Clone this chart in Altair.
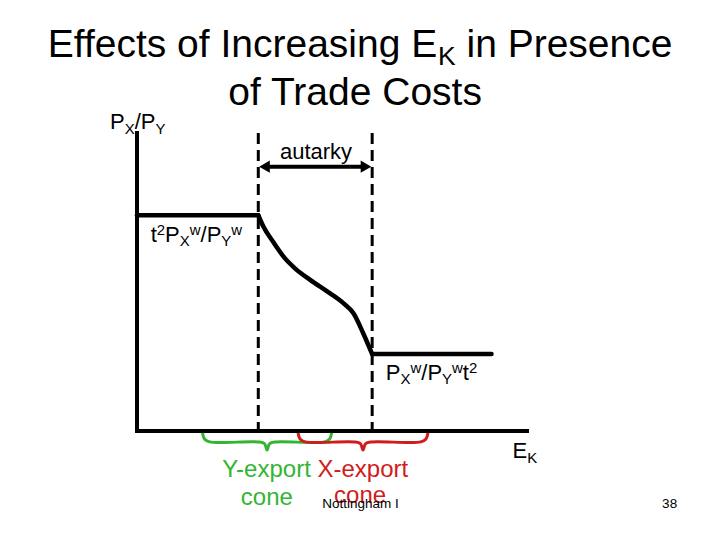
import altair as alt
import pandas as pd

# ---------------- data (diagram units: E_K axis 0..100, P_X/P_Y axis 0..100) ----------------
axis_x_end = 100
axis_y_end = 100
autarky_left = 31.1
autarky_right = 60.3
price_high = 72.4        # t^2 Px^w / Py^w
price_low = 25.8         # Px^w / Py^w t^2
flat_right_end = 90.9
curve_x = [31.1, 32.4, 34.9, 37.9, 40.5, 44.4, 49.5, 52.9, 55.5, 58.0, 60.3]
curve_y = [72.4, 68.6, 63.5, 58.0, 54.6, 50.7, 46.2, 42.9, 39.5, 32.8, 25.8]
dash_top = 100
arrow_y = 88.7

brace_names = ["Y-export cone", "X-export cone"]
brace_left = [16.8, 41.3]
brace_right = [49.9, 74.6]
brace_colors = ["#33b533", "#d01c1c"]
brace_top = -0.7
brace_depth = 5.7
# normalised curly-brace outline (u along, v down)
BRACE_U = [0, 0.015, 0.055, 0.43, 0.48, 0.5, 0.52, 0.57, 0.945, 0.985, 1]
BRACE_V = [0, 0.35, 0.52, 0.52, 0.62, 1, 0.62, 0.52, 0.52, 0.35, 0]

GREEN, RED = brace_colors

# ---------------- canvas scales ----------------
W_PX, H_PX = 704, 520
XDOM = [-33.08, 147.44]
YDOM = [-32.55, 141.95]
PXU_X = W_PX / (XDOM[1] - XDOM[0])
PXU_Y = H_PX / (YDOM[1] - YDOM[0])
FONT = "Liberation Sans"

ARIAL = {
    " ": 278, "-": 333, "/": 278, "2": 556, "3": 556, "8": 556,
    "a": 556, "b": 556, "c": 500, "d": 556, "e": 556, "f": 278, "g": 556, "h": 556,
    "i": 222, "j": 222, "k": 500, "l": 222, "m": 833, "n": 556, "o": 556, "p": 556,
    "q": 556, "r": 333, "s": 500, "t": 278, "u": 556, "v": 500, "w": 722, "x": 500,
    "y": 500, "z": 500,
    "C": 722, "E": 667, "I": 278, "K": 667, "N": 722, "P": 667, "T": 611, "X": 667, "Y": 667,
}


def tw(s, size):
    return sum(ARIAL.get(c, 556) for c in s) * size / 1000.0


def rich(segs, x, y, size, color, anchor="left"):
    pieces, off = [], 0.0
    for txt, kind in segs:
        s = size if kind == "n" else size * 0.68
        dy = 0.0 if kind == "n" else (0.2 * size if kind == "sub" else -0.3 * size)
        lead = len(txt) - len(txt.lstrip(" "))
        off += tw(" " * lead, s)
        body = txt.lstrip(" ")
        pieces.append((body, off, dy, s))
        off += tw(body, s)
    start = -off / 2 if anchor == "center" else 0.0
    return [dict(text=t, x=x + (start + o) / PXU_X, y=y - dy / PXU_Y, size=s, color=color)
            for t, o, dy, s in pieces]


xs = alt.Scale(domain=XDOM, nice=False, zero=False)
ys = alt.Scale(domain=YDOM, nice=False, zero=False)
X = lambda f: alt.X(f, type="quantitative", scale=xs, axis=None)
Y = lambda f: alt.Y(f, type="quantitative", scale=ys, axis=None)

# axes
axes_df = pd.DataFrame({"x": [0, 0], "y": [0, 0], "x2": [0, axis_x_end], "y2": [axis_y_end, 0]})
axes = alt.Chart(axes_df).mark_rule(color="black", strokeWidth=4, strokeCap="square").encode(
    x=X("x"), y=Y("y"), x2="x2", y2="y2")

# flat price segments
flat_df = pd.DataFrame({"x": [0, autarky_right], "x2": [autarky_left, flat_right_end],
                        "y": [price_high, price_low]})
flats = alt.Chart(flat_df).mark_rule(color="black", strokeWidth=4.5, strokeCap="round").encode(
    x=X("x"), x2="x2", y=Y("y"))

curve_df = pd.DataFrame({"x": curve_x, "y": curve_y, "o": list(range(len(curve_x)))})
curve = alt.Chart(curve_df).mark_line(color="black", strokeWidth=4.5, interpolate="monotone",
                                      strokeCap="round").encode(
    x=X("x"), y=Y("y"), order="o:Q")

# dashed cone boundaries
dash_df = pd.DataFrame({"x": [autarky_left, autarky_right], "y": [dash_top, dash_top], "y2": [0, 0]})
dashes = alt.Chart(dash_df).mark_rule(color="black", strokeWidth=3, strokeDash=[11, 6]).encode(
    x=X("x"), y=Y("y"), y2="y2")

# autarky arrow
head = 6.2 / PXU_X
arrow_df = pd.DataFrame({"x": [autarky_left + head], "x2": [autarky_right - head], "y": [arrow_y]})
arrow = alt.Chart(arrow_df).mark_rule(color="black", strokeWidth=4).encode(
    x=X("x"), x2="x2", y=Y("y"))
head_l = alt.Chart(pd.DataFrame({"x": [autarky_left + head], "y": [arrow_y]})).mark_point(
    shape="triangle-left", filled=True, color="black", size=150, opacity=1).encode(x=X("x"), y=Y("y"))
head_r = alt.Chart(pd.DataFrame({"x": [autarky_right - head], "y": [arrow_y]})).mark_point(
    shape="triangle-right", filled=True, color="black", size=150, opacity=1).encode(x=X("x"), y=Y("y"))

# braces
brows = []
for name, l, r, c in zip(brace_names, brace_left, brace_right, brace_colors):
    for i, (u, v) in enumerate(zip(BRACE_U, BRACE_V)):
        brows.append(dict(b=name, o=i, x=l + u * (r - l), y=brace_top - v * brace_depth, c=c))
braces = alt.Chart(pd.DataFrame(brows)).mark_line(strokeWidth=3, interpolate="catmull-rom").encode(
    x=X("x"), y=Y("y"), detail="b:N", order="o:Q", color=alt.Color("c:N", scale=None))

# texts
rows = []
rows += rich([("Effects of Increasing E", "n"), ("K", "sub"), (" in Presence", "n")],
             57.2, 125.5, 39, "black", "center")
rows += rich([("of Trade Costs", "n")], 56.2, 109.4, 39, "black", "center")
rows += rich([("P", "n"), ("X", "sub"), ("/P", "n"), ("Y", "sub")], -6.9, 101.3, 22, "black")
rows += rich([("autarky", "n")], 45.9, 91.2, 22, "black", "center")
rows += rich([("t", "n"), ("2", "sup"), ("P", "n"), ("X", "sub"), ("w", "sup"), ("/P", "n"),
              ("Y", "sub"), ("w", "sup")], 3.5, 63.5, 22, "black")
rows += rich([("P", "n"), ("X", "sub"), ("w", "sup"), ("/P", "n"), ("Y", "sub"), ("w", "sup"),
              ("t", "n"), ("2", "sup")], 63.8, 17.1, 22, "black")
rows += rich([("E", "n"), ("K", "sub")], 96.3, -9.2, 22, "black")
rows += rich([("Y-export", "n")], 33.5, -15.3, 24, GREEN, "center")
rows += rich([("cone", "n")], 33.3, -24.8, 24, GREEN, "center")
rows += rich([("X-export", "n")], 57.9, -15.3, 24, RED, "center")
rows += rich([("cone", "n")], 57.2, -24.3, 24, RED, "center")
rows += rich([("Nottingham I", "n")], 57.3, -25.8, 13.5, "black", "center")
rows += rich([("38", "n")], 138.5 - tw("38", 13.5) / PXU_X, -25.8, 13.5, "black")

texts = alt.Chart(pd.DataFrame(rows)).mark_text(align="left", baseline="alphabetic", font=FONT).encode(
    x=X("x"), y=Y("y"), text="text:N",
    size=alt.Size("size:Q", scale=None), color=alt.Color("color:N", scale=None))

chart = alt.layer(axes, dashes, flats, curve, arrow, head_l, head_r, braces, texts).properties(
    width=W_PX, height=H_PX, padding=0,
    autosize=alt.AutoSizeParams(type="fit", contains="padding"),
    background="white",
).configure_view(stroke=None)

chart.save("out.html", embed_options={"renderer": "svg", "actions": False})
